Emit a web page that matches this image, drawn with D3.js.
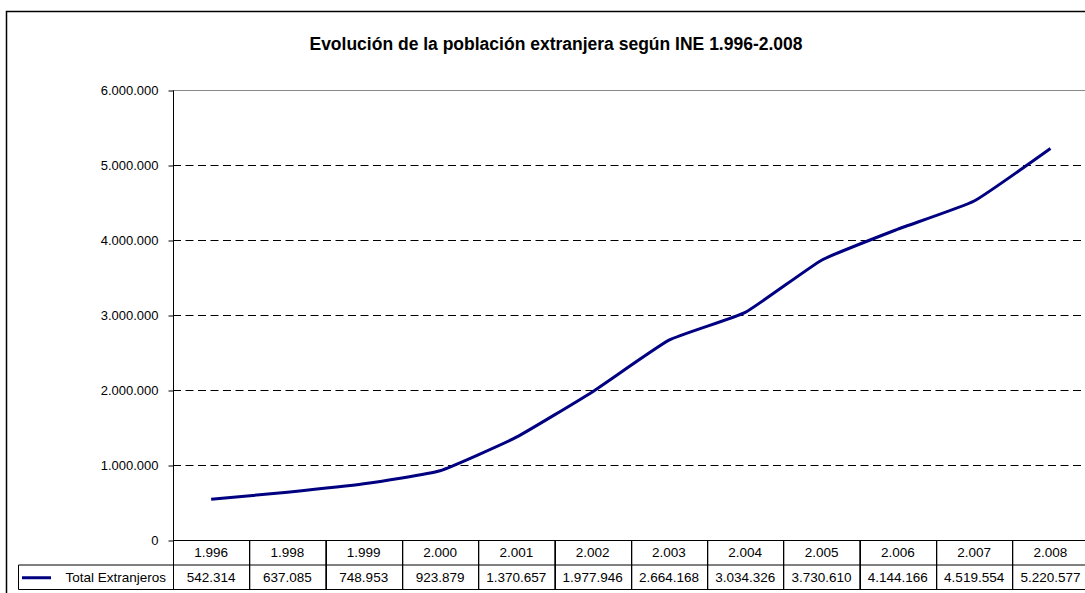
<!DOCTYPE html>
<html>
<head>
<meta charset="utf-8">
<script src="https://cdn.jsdelivr.net/npm/d3@7"></script>
<style>
  body { margin: 0; background: #fff; }
  svg { display: block; font-family: "Liberation Sans", Arial, sans-serif; }
</style>
</head>
<body>
<svg id="chart" width="1085" height="593"></svg>
<script>
var years = ["1.996", "1.998", "1.999", "2.000", "2.001", "2.002", "2.003", "2.004", "2.005", "2.006", "2.007", "2.008"];
var totalExtranjeros = [542314, 637085, 748953, 923879, 1370657, 1977946, 2664168, 3034326, 3730610, 4144166, 4519554, 5220577];
var yTicks = [0, 1000000, 2000000, 3000000, 4000000, 5000000, 6000000];
var seriesName = "Total Extranjeros";
var title = "Evolución de la población extranjera según INE 1.996-2.008";

var svg = d3.select("#chart");

// dotted thousands, spanish style
var fmt = function(v) { return d3.format(",")(v).replace(/,/g, "."); };

var plotLeft = 173, plotTop = 90, plotBottom = 540, colW = 76.3;
var rowH = 24.5;

var x = d3.scaleBand().domain(years).range([plotLeft, plotLeft + colW * years.length]);
var y = d3.scaleLinear().domain([0, 6000000]).range([plotBottom, plotTop]);

// outer frame
svg.append("rect")
  .attr("x", 6.5).attr("y", 11.5)
  .attr("width", 1100).attr("height", 600)
  .attr("fill", "#fff")
  .attr("stroke", "#000").attr("stroke-width", 1.5);

svg.append("text")
  .attr("x", 556).attr("y", 50)
  .attr("text-anchor", "middle")
  .attr("font-size", 17.5).attr("font-weight", "bold")
  .text(title);

// grid
var g = svg.append("g");
g.selectAll(".grid")
  .data(yTicks.filter(function(d) { return d > 0; }))
  .enter().append("line")
    .attr("x1", plotLeft).attr("x2", 1085)
    .attr("y1", function(d) { return Math.round(y(d)) + 0.5; })
    .attr("y2", function(d) { return Math.round(y(d)) + 0.5; })
    .attr("stroke", function(d) { return d == 6000000 ? "#888" : "#000"; })
    .attr("stroke-dasharray", function(d) { return d == 6000000 ? null : "8,4.5"; });

// y axis
g.append("g")
  .attr("transform", "translate(" + (plotLeft + 0.5) + ",0.5)")
  .call(d3.axisLeft(y).tickValues(yTicks).tickFormat(fmt).tickSize(5).tickPadding(10))
  .call(function(a) {
    a.select(".domain").attr("d", "M0," + plotTop + "V" + plotBottom);
    a.selectAll("text").attr("font-size", 13).attr("font-family", null).attr("fill", "#000");
  });

// line
var line = d3.line()
  .x(function(d, i) { return x(years[i]) + x.bandwidth() / 2; })
  .y(function(d) { return y(d); })
  .curve(d3.curveCardinal.tension(0.6));

g.append("path")
  .datum(totalExtranjeros)
  .attr("fill", "none")
  .attr("stroke", "#000080")
  .attr("stroke-width", 3)
  .attr("d", line);

// data table
var t = svg.append("g").attr("font-size", 13.5);

t.selectAll(".hcell")
  .data(years)
  .enter().append("rect")
    .attr("x", function(d) { return Math.round(x(d)) + 0.5; })
    .attr("y", plotBottom + 0.5)
    .attr("width", x.bandwidth())
    .attr("height", rowH * 2)
    .attr("fill", "none").attr("stroke", "#000");

t.append("line")
  .attr("x1", 18.5).attr("x2", 1085)
  .attr("y1", plotBottom + rowH + 0.5).attr("y2", plotBottom + rowH + 0.5)
  .attr("stroke", "#000");
t.append("line")
  .attr("x1", 18.5).attr("x2", 1085)
  .attr("y1", plotBottom + rowH * 2 + 0.5).attr("y2", plotBottom + rowH * 2 + 0.5)
  .attr("stroke", "#000");
t.append("line")
  .attr("x1", 18.5).attr("x2", 18.5)
  .attr("y1", plotBottom + rowH + 0.5).attr("y2", plotBottom + rowH * 2 + 0.5)
  .attr("stroke", "#000");

t.selectAll(".ylab")
  .data(years)
  .enter().append("text")
    .attr("x", function(d) { return x(d) + x.bandwidth() / 2; })
    .attr("y", plotBottom + rowH / 2 + 5)
    .attr("text-anchor", "middle")
    .text(function(d) { return d; });

t.selectAll(".vlab")
  .data(totalExtranjeros)
  .enter().append("text")
    .attr("x", function(d, i) { return x(years[i]) + x.bandwidth() / 2; })
    .attr("y", plotBottom + rowH * 1.5 + 5)
    .attr("text-anchor", "middle")
    .text(function(d) { return fmt(d); });

t.append("line")
  .attr("x1", 22).attr("x2", 51)
  .attr("y1", plotBottom + rowH * 1.5 + 1).attr("y2", plotBottom + rowH * 1.5 + 1)
  .attr("stroke", "#000080").attr("stroke-width", 3);
t.append("text")
  .attr("x", 166).attr("y", plotBottom + rowH * 1.5 + 5)
  .attr("text-anchor", "end")
  .text(seriesName);
</script>
</body>
</html>
